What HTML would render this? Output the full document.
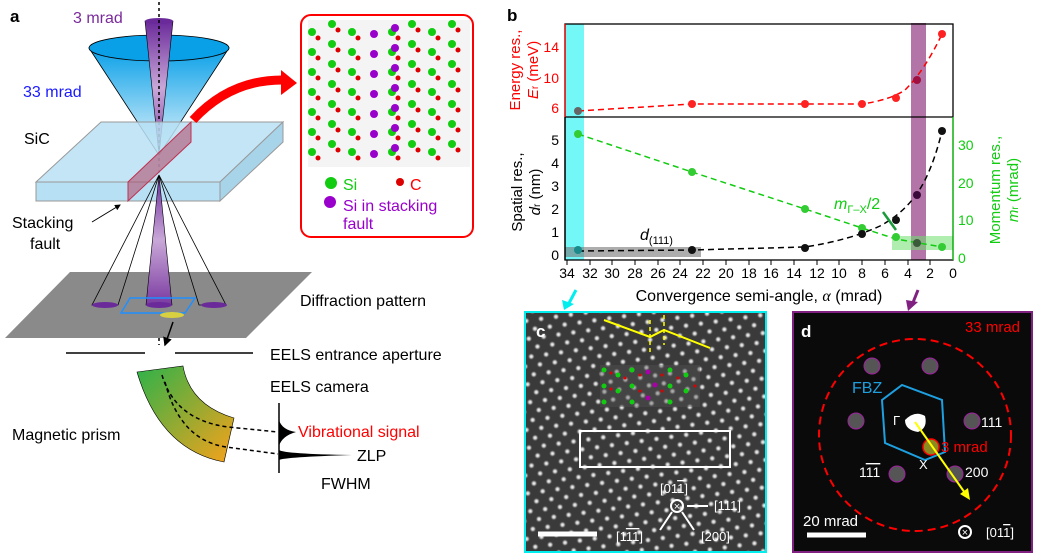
<!DOCTYPE html>
<html><head><meta charset="utf-8"><style>
html,body{margin:0;padding:0;background:#fff;}
svg{display:block;font-family:"Liberation Sans",sans-serif;}
</style></head><body>
<svg width="1037" height="555" viewBox="0 0 1037 555" xmlns="http://www.w3.org/2000/svg">
<defs>
<linearGradient id="cone" x1="0" y1="0" x2="0" y2="1"><stop offset="0" stop-color="#0aa0e8"/><stop offset="1" stop-color="#e8f6fc"/></linearGradient>
<linearGradient id="beam" x1="0" y1="0" x2="0" y2="1"><stop offset="0" stop-color="#6a2a9a"/><stop offset="0.5" stop-color="#c9a8d8"/><stop offset="1" stop-color="#7a3aa0"/></linearGradient>
<linearGradient id="prism" x1="0" y1="0" x2="1" y2="1"><stop offset="0" stop-color="#2db24a"/><stop offset="1" stop-color="#f7a21b"/></linearGradient>
<radialGradient id="dot"><stop offset="0" stop-color="#fff"/><stop offset="0.45" stop-color="#bbb"/><stop offset="1" stop-color="#444" stop-opacity="0"/></radialGradient>
<pattern id="lat" width="15" height="18" patternUnits="userSpaceOnUse" patternTransform="rotate(-8)">
<rect width="15" height="18" fill="#3a3a3a"/><circle cx="4" cy="4" r="3.6" fill="url(#dot)"/><circle cx="11.5" cy="13" r="3.6" fill="url(#dot)"/></pattern>
<marker id="ah" markerWidth="6" markerHeight="6" refX="5" refY="3" orient="auto"><path d="M0,0L6,3L0,6z" fill="#000"/></marker>
</defs>
<!-- Panel a -->
<text x="10" y="22" font-size="17" font-weight="bold">a</text>
<text x="73" y="23" font-size="16" fill="#7a2a9a">3 mrad</text>
<text x="23" y="97" font-size="16" fill="#1a1aff">33 mrad</text>
<path d="M89,48 L159,155 L229,48 Z" fill="url(#cone)" stroke="#000" stroke-width="0.8"/>
<ellipse cx="159" cy="48" rx="70" ry="13" fill="#0aa0e8" stroke="#000" stroke-width="0.8"/>
<path d="M145,21 L159,155 L173,21 Z" fill="url(#beam)" stroke="#000" stroke-width="0.6"/>
<ellipse cx="159" cy="21" rx="14" ry="3" fill="#6a2a9a"/>
<line x1="159" y1="2" x2="159" y2="345" stroke="#000" stroke-width="1.5" stroke-dasharray="3,3"/>
<text x="24" y="144" font-size="16">SiC</text>
<polygon points="36,182 101,122 283,122 220,182" fill="#b8e0f4" fill-opacity="0.85" stroke="#999"/>
<rect x="36" y="182" width="184" height="19" fill="#b8e0f4" stroke="#999"/>
<polygon points="220,182 283,122 283,142 220,201" fill="#a8d4ea" stroke="#999"/>
<polygon points="128,182 191,122 191,142 128,201" fill="#b05070" fill-opacity="0.6" stroke="#c03050"/>
<path d="M193,120 Q230,80 282,80" stroke="#f00" stroke-width="9" fill="none"/>
<polygon points="281,70 297,83 281,95" fill="#f00"/>
<text x="12" y="228" font-size="16">Stacking</text><text x="30" y="249" font-size="16">fault</text>
<line x1="92" y1="222" x2="120" y2="205" stroke="#000" marker-end="url(#ah)"/>
<polygon points="5,338 70,272 312,272 246,338" fill="#8a8a8a"/>
<path d="M159,175 L92,305 L118,305 Z M159,175 L199,305 L226,305 Z" fill="none" stroke="#000" stroke-width="0.8"/>
<path d="M159,175 L146,305 L172,305 Z" fill="url(#beam)" stroke="#000" stroke-width="0.6"/>
<ellipse cx="105" cy="305" rx="13" ry="3" fill="#6a2a9a"/><ellipse cx="159" cy="305" rx="13" ry="3" fill="#6a2a9a"/><ellipse cx="214" cy="305" rx="13" ry="3" fill="#6a2a9a"/>
<polygon points="130,298 195,298 185,313 121,313" fill="none" stroke="#1e90ff" stroke-width="1.5"/>
<ellipse cx="172" cy="315" rx="12" ry="3" fill="#d8d040"/>
<text x="300" y="306" font-size="16">Diffraction pattern</text>
<line x1="66" y1="353" x2="145" y2="353" stroke="#000" stroke-width="1.5"/><line x1="175" y1="353" x2="253" y2="353" stroke="#000" stroke-width="1.5"/>
<line x1="173" y1="322" x2="165" y2="345" stroke="#000" stroke-width="1.5" marker-end="url(#ah)"/>
<text x="270" y="360" font-size="16">EELS entrance aperture</text>
<text x="270" y="392" font-size="16">EELS camera</text>
<path d="M137,372 L183,366 Q190,405 234,418 L224,462 Q160,450 137,372 Z" fill="url(#prism)" stroke="#000" stroke-width="0.6"/>
<path d="M162,375 Q175,420 228,427 L278,432 M165,382 Q180,440 226,447 L278,454" fill="none" stroke="#000" stroke-width="1.5" stroke-dasharray="4,3"/>
<text x="12" y="440" font-size="16">Magnetic prism</text>
<line x1="279" y1="403" x2="279" y2="473" stroke="#000" stroke-width="1.5"/>
<path d="M279,420 Q282,430 296,432 Q282,436 279,446 Z" fill="#000"/>
<path d="M279,450 Q285,454 352,455 Q285,457 279,460 Z" fill="#000"/>
<text x="298" y="437" font-size="16" fill="#f00">Vibrational signal</text>
<text x="357" y="461" font-size="16">ZLP</text>
<text x="321" y="489" font-size="16">FWHM</text>
<!-- inset -->
<rect x="301" y="15" width="172" height="222" rx="10" fill="#fff" stroke="#f00" stroke-width="2"/>
<g>
<rect x="308" y="20" width="162" height="147" fill="#f4f4f4"/>
<g id="col">
<circle cx="312" cy="32" r="4" fill="#1c1"/><circle cx="318" cy="38" r="2.5" fill="#d00"/>
<circle cx="312" cy="52" r="4" fill="#1c1"/><circle cx="318" cy="58" r="2.5" fill="#d00"/>
<circle cx="312" cy="72" r="4" fill="#1c1"/><circle cx="318" cy="78" r="2.5" fill="#d00"/>
<circle cx="312" cy="92" r="4" fill="#1c1"/><circle cx="318" cy="98" r="2.5" fill="#d00"/>
<circle cx="312" cy="112" r="4" fill="#1c1"/><circle cx="318" cy="118" r="2.5" fill="#d00"/>
<circle cx="312" cy="132" r="4" fill="#1c1"/><circle cx="318" cy="138" r="2.5" fill="#d00"/>
<circle cx="312" cy="152" r="4" fill="#1c1"/><circle cx="318" cy="158" r="2.5" fill="#d00"/>
</g>
<use href="#col" x="20" y="-8"/><use href="#col" x="40" y="0"/><use href="#col" x="80" y="0"/><use href="#col" x="100" y="-8"/><use href="#col" x="120" y="0"/><use href="#col" x="140" y="-8"/>
<g fill="#90c"><circle cx="374" cy="34" r="4"/><circle cx="374" cy="54" r="4"/><circle cx="374" cy="74" r="4"/><circle cx="374" cy="94" r="4"/><circle cx="374" cy="114" r="4"/><circle cx="374" cy="134" r="4"/><circle cx="374" cy="154" r="4"/>
<circle cx="395" cy="28" r="4"/><circle cx="395" cy="48" r="4"/><circle cx="395" cy="68" r="4"/><circle cx="395" cy="88" r="4"/><circle cx="395" cy="108" r="4"/><circle cx="395" cy="128" r="4"/><circle cx="395" cy="148" r="4"/></g>
</g>
<circle cx="331" cy="183" r="6" fill="#1c1"/><text x="343" y="190" font-size="16" fill="#1c1">Si</text>
<circle cx="400" cy="182" r="4" fill="#d00"/><text x="410" y="190" font-size="16" fill="#f00">C</text>
<circle cx="330" cy="202" r="6" fill="#90c"/><text x="343" y="211" font-size="16" fill="#90c">Si in stacking</text><text x="343" y="229" font-size="16" fill="#90c">fault</text>
<!-- Panel b -->
<text x="507" y="21" font-size="17" font-weight="bold">b</text>
<rect x="565" y="24" width="19" height="236" fill="#00f0f0" fill-opacity="0.55"/>
<rect x="911" y="23" width="15" height="237" fill="#8a2a78" fill-opacity="0.65"/>
<rect x="565" y="247" width="136" height="10" fill="#777" fill-opacity="0.6"/>
<rect x="892" y="236" width="61" height="14" fill="#6de06d" fill-opacity="0.55"/>
<rect x="565" y="24" width="388" height="236" fill="none" stroke="#000" stroke-width="1.3"/>
<line x1="565" y1="117" x2="953" y2="117" stroke="#000" stroke-width="1.3"/>
<line x1="565" y1="117" x2="565" y2="260" stroke="#000" stroke-width="1.3"/>
<line x1="953" y1="117" x2="953" y2="260" stroke="#1c1" stroke-width="1.3"/>
<line x1="565" y1="24" x2="565" y2="117" stroke="#f00" stroke-width="1.3"/>
<g stroke="#000" stroke-width="1"><line x1="567" y1="260" x2="567" y2="265"/><line x1="590" y1="260" x2="590" y2="265"/><line x1="612" y1="260" x2="612" y2="265"/><line x1="635" y1="260" x2="635" y2="265"/><line x1="658" y1="260" x2="658" y2="265"/><line x1="680" y1="260" x2="680" y2="265"/><line x1="703" y1="260" x2="703" y2="265"/><line x1="726" y1="260" x2="726" y2="265"/><line x1="749" y1="260" x2="749" y2="265"/><line x1="771" y1="260" x2="771" y2="265"/><line x1="794" y1="260" x2="794" y2="265"/><line x1="817" y1="260" x2="817" y2="265"/><line x1="839" y1="260" x2="839" y2="265"/><line x1="862" y1="260" x2="862" y2="265"/><line x1="885" y1="260" x2="885" y2="265"/><line x1="908" y1="260" x2="908" y2="265"/><line x1="930" y1="260" x2="930" y2="265"/></g>
<g font-size="14" text-anchor="middle"><text x="567" y="278">34</text><text x="590" y="278">32</text><text x="612" y="278">30</text><text x="635" y="278">28</text><text x="658" y="278">26</text><text x="680" y="278">24</text><text x="703" y="278">22</text><text x="726" y="278">20</text><text x="749" y="278">18</text><text x="771" y="278">16</text><text x="794" y="278">14</text><text x="817" y="278">12</text><text x="839" y="278">10</text><text x="862" y="278">8</text><text x="885" y="278">6</text><text x="908" y="278">4</text><text x="930" y="278">2</text><text x="953" y="278">0</text></g>
<text x="759" y="301" font-size="16" text-anchor="middle">Convergence semi-angle, <tspan font-style="italic" font-family="Liberation Serif">α</tspan> (mrad)</text>
<g font-size="14" fill="#f00" text-anchor="end"><text x="559" y="113">6</text><text x="559" y="83">10</text><text x="559" y="52">14</text></g>
<g font-size="14" text-anchor="end"><text x="559" y="260">0</text><text x="559" y="237">1</text><text x="559" y="214">2</text><text x="559" y="191">3</text><text x="559" y="168">4</text><text x="559" y="145">5</text></g>
<g font-size="14" fill="#1c1"><text x="958" y="263">0</text><text x="958" y="225">10</text><text x="958" y="188">20</text><text x="958" y="150">30</text></g>
<text transform="translate(520,70) rotate(-90)" font-size="15" fill="#f00" text-anchor="middle">Energy res.,</text>
<text transform="translate(538,70) rotate(-90)" font-size="15" fill="#f00" text-anchor="middle"><tspan font-style="italic">E</tspan><tspan font-size="10">r</tspan> (meV)</text>
<text transform="translate(522,192) rotate(-90)" font-size="15" text-anchor="middle">Spatial res.,</text>
<text transform="translate(540,192) rotate(-90)" font-size="15" text-anchor="middle"><tspan font-style="italic">d</tspan><tspan font-size="10">r</tspan> (nm)</text>
<text transform="translate(1000,190) rotate(-90)" font-size="15" fill="#1c1" text-anchor="middle">Momentum res.,</text>
<text transform="translate(1018,190) rotate(-90)" font-size="15" fill="#1c1" text-anchor="middle"><tspan font-style="italic">m</tspan><tspan font-size="10">r</tspan> (mrad)</text>
<path d="M578,111 L692,104 L805,104 L862,104 Q890,100 905,90 Q925,70 942,34" fill="none" stroke="#f00" stroke-width="1.5" stroke-dasharray="6,4"/>
<path d="M578,134 L692,172 L805,209 L862,228 L896,239 L942,247" fill="none" stroke="#1c1" stroke-width="1.5" stroke-dasharray="6,4"/>
<path d="M578,251 L692,250 L805,247 Q850,240 880,226 Q910,210 925,180 Q935,160 942,131" fill="none" stroke="#000" stroke-width="1.5" stroke-dasharray="6,4"/>
<g fill="#f22"><circle cx="692" cy="104" r="4"/><circle cx="805" cy="104" r="4"/><circle cx="862" cy="104" r="4"/><circle cx="896" cy="98" r="4"/><circle cx="917" cy="80" r="4" fill="#a01040"/><circle cx="942" cy="34" r="4"/><circle cx="578" cy="111" r="4" fill="#666"/></g>
<g fill="#3c3"><circle cx="578" cy="134" r="4"/><circle cx="692" cy="172" r="4"/><circle cx="805" cy="209" r="4"/><circle cx="862" cy="228" r="4"/><circle cx="896" cy="237" r="4"/><circle cx="942" cy="247" r="4"/><circle cx="917" cy="243" r="4" fill="#3a5a3a"/></g>
<g fill="#111"><circle cx="578" cy="250" r="4" fill="#1a8a8a"/><circle cx="692" cy="250" r="4"/><circle cx="805" cy="248" r="4"/><circle cx="862" cy="234" r="4"/><circle cx="896" cy="220" r="4"/><circle cx="917" cy="195" r="4" fill="#3a0a3a"/><circle cx="942" cy="131" r="4"/></g>
<text x="640" y="240" font-size="16" font-style="italic">d<tspan font-style="normal" font-size="11" dy="4">(111)</tspan></text>
<text x="834" y="209" font-size="16" fill="#1c1" font-style="italic">m<tspan font-style="normal" font-size="11" dy="4">Γ–X</tspan><tspan font-style="normal" dy="-4">/2</tspan></text>
<line x1="883" y1="212" x2="896" y2="230" stroke="#1a9a3a" stroke-width="2.5"/>
<line x1="576" y1="290" x2="568" y2="305" stroke="#0ee" stroke-width="3"/><polygon points="562,300 574,304 564,310" fill="#0ee"/>
<line x1="918" y1="290" x2="912" y2="305" stroke="#802080" stroke-width="3"/><polygon points="906,300 918,302 908,311" fill="#802080"/>
<!-- Panel c -->
<rect x="525" y="312" width="241" height="240" fill="url(#lat)"/>
<rect x="525" y="312" width="241" height="240" fill="none" stroke="#0ee" stroke-width="2"/>
<text x="536" y="337" font-size="17" font-weight="bold" fill="#fff">c</text>
<polyline points="604,320 650,337 664,330 710,348" fill="none" stroke="#ff0" stroke-width="2"/>
<line x1="650" y1="320" x2="650" y2="352" stroke="#ff0" stroke-width="1.5" stroke-dasharray="4,3"/><line x1="664" y1="315" x2="664" y2="345" stroke="#ff0" stroke-width="1.5" stroke-dasharray="4,3"/>
<g><rect x="600" y="365" width="100" height="42" fill="#555" fill-opacity="0.4"/>
<g fill="#1c1"><circle cx="604" cy="370" r="2.5"/><circle cx="618" cy="375" r="2.5"/><circle cx="632" cy="370" r="2.5"/><circle cx="670" cy="370" r="2.5"/><circle cx="686" cy="375" r="2.5"/><circle cx="604" cy="386" r="2.5"/><circle cx="618" cy="391" r="2.5"/><circle cx="632" cy="386" r="2.5"/><circle cx="670" cy="386" r="2.5"/><circle cx="686" cy="391" r="2.5"/><circle cx="604" cy="402" r="2.5"/><circle cx="632" cy="402" r="2.5"/><circle cx="670" cy="402" r="2.5"/></g>
<g fill="#a0a"><circle cx="648" cy="372" r="2.5"/><circle cx="655" cy="385" r="2.5"/><circle cx="648" cy="398" r="2.5"/></g>
<g fill="#d00"><circle cx="611" cy="373" r="1.5"/><circle cx="625" cy="378" r="1.5"/><circle cx="640" cy="375" r="1.5"/><circle cx="662" cy="375" r="1.5"/><circle cx="678" cy="378" r="1.5"/><circle cx="611" cy="389" r="1.5"/><circle cx="640" cy="391" r="1.5"/><circle cx="662" cy="391" r="1.5"/><circle cx="695" cy="386" r="1.5"/></g></g>
<rect x="580" y="431" width="150" height="36" fill="none" stroke="#fff" stroke-width="2"/>
<line x1="538" y1="534" x2="597" y2="534" stroke="#fff" stroke-width="5"/>
<circle cx="677" cy="506" r="6" fill="none" stroke="#fff" stroke-width="2"/><text x="677" y="510" font-size="11" fill="#fff" text-anchor="middle">×</text>
<text x="660" y="493" font-size="13" fill="#fff">[01<tspan text-decoration="overline">1</tspan>]</text>
<line x1="687" y1="506" x2="708" y2="506" stroke="#fff" stroke-width="2"/><text x="714" y="510" font-size="13" fill="#fff">[111]</text>
<line x1="672" y1="512" x2="660" y2="530" stroke="#fff" stroke-width="2"/><text x="616" y="541" font-size="13" fill="#fff">[1<tspan text-decoration="overline">11</tspan>]</text>
<line x1="682" y1="512" x2="694" y2="530" stroke="#fff" stroke-width="2"/><text x="701" y="541" font-size="13" fill="#fff">[200]</text>
<!-- Panel d -->
<rect x="793" y="312" width="239" height="240" fill="#0a0a0a" stroke="#802080" stroke-width="2"/>
<text x="801" y="337" font-size="17" font-weight="bold" fill="#fff">d</text>
<text x="965" y="332" font-size="15" fill="#f00">33 mrad</text>
<circle cx="915" cy="435" r="96" fill="none" stroke="#f00" stroke-width="2" stroke-dasharray="8,5"/>
<g fill="#555" stroke="#a020a0" stroke-width="1"><circle cx="872" cy="366" r="8"/><circle cx="930" cy="366" r="8"/><circle cx="856" cy="421" r="8"/><circle cx="972" cy="421" r="8"/><circle cx="897" cy="474" r="8"/><circle cx="955" cy="474" r="8"/></g>
<polygon points="882,400 902,385 942,400 945,452 925,460 885,443" fill="none" stroke="#1ea0e0" stroke-width="2"/>
<text x="852" y="393" font-size="16" fill="#1ea0e0">FBZ</text>
<path d="M905,420 Q915,410 925,416 Q928,428 918,432 Q905,430 905,420Z" fill="#fff"/>
<text x="893" y="425" font-size="13" fill="#fff">Γ</text>
<circle cx="931" cy="447" r="8" fill="#8a8a20" stroke="#f00" stroke-width="1.5"/>
<line x1="915" y1="422" x2="965" y2="493" stroke="#ff0" stroke-width="2"/><polygon points="960,494 970,500 968,488" fill="#ff0"/>
<text x="941" y="452" font-size="15" fill="#f00">3 mrad</text>
<text x="919" y="469" font-size="13" fill="#fff">X</text>
<text x="981" y="427" font-size="14" fill="#fff">111</text>
<text x="965" y="477" font-size="14" fill="#fff">200</text>
<text x="859" y="477" font-size="14" fill="#fff">1<tspan text-decoration="overline">11</tspan></text>
<text x="803" y="526" font-size="15" fill="#fff">20 mrad</text>
<line x1="807" y1="535" x2="866" y2="535" stroke="#fff" stroke-width="5"/>
<circle cx="965" cy="532" r="6" fill="none" stroke="#fff" stroke-width="2"/><text x="965" y="536" font-size="11" fill="#fff" text-anchor="middle">×</text>
<text x="986" y="537" font-size="13" fill="#fff">[01<tspan text-decoration="overline">1</tspan>]</text>
</svg>
</body></html>
